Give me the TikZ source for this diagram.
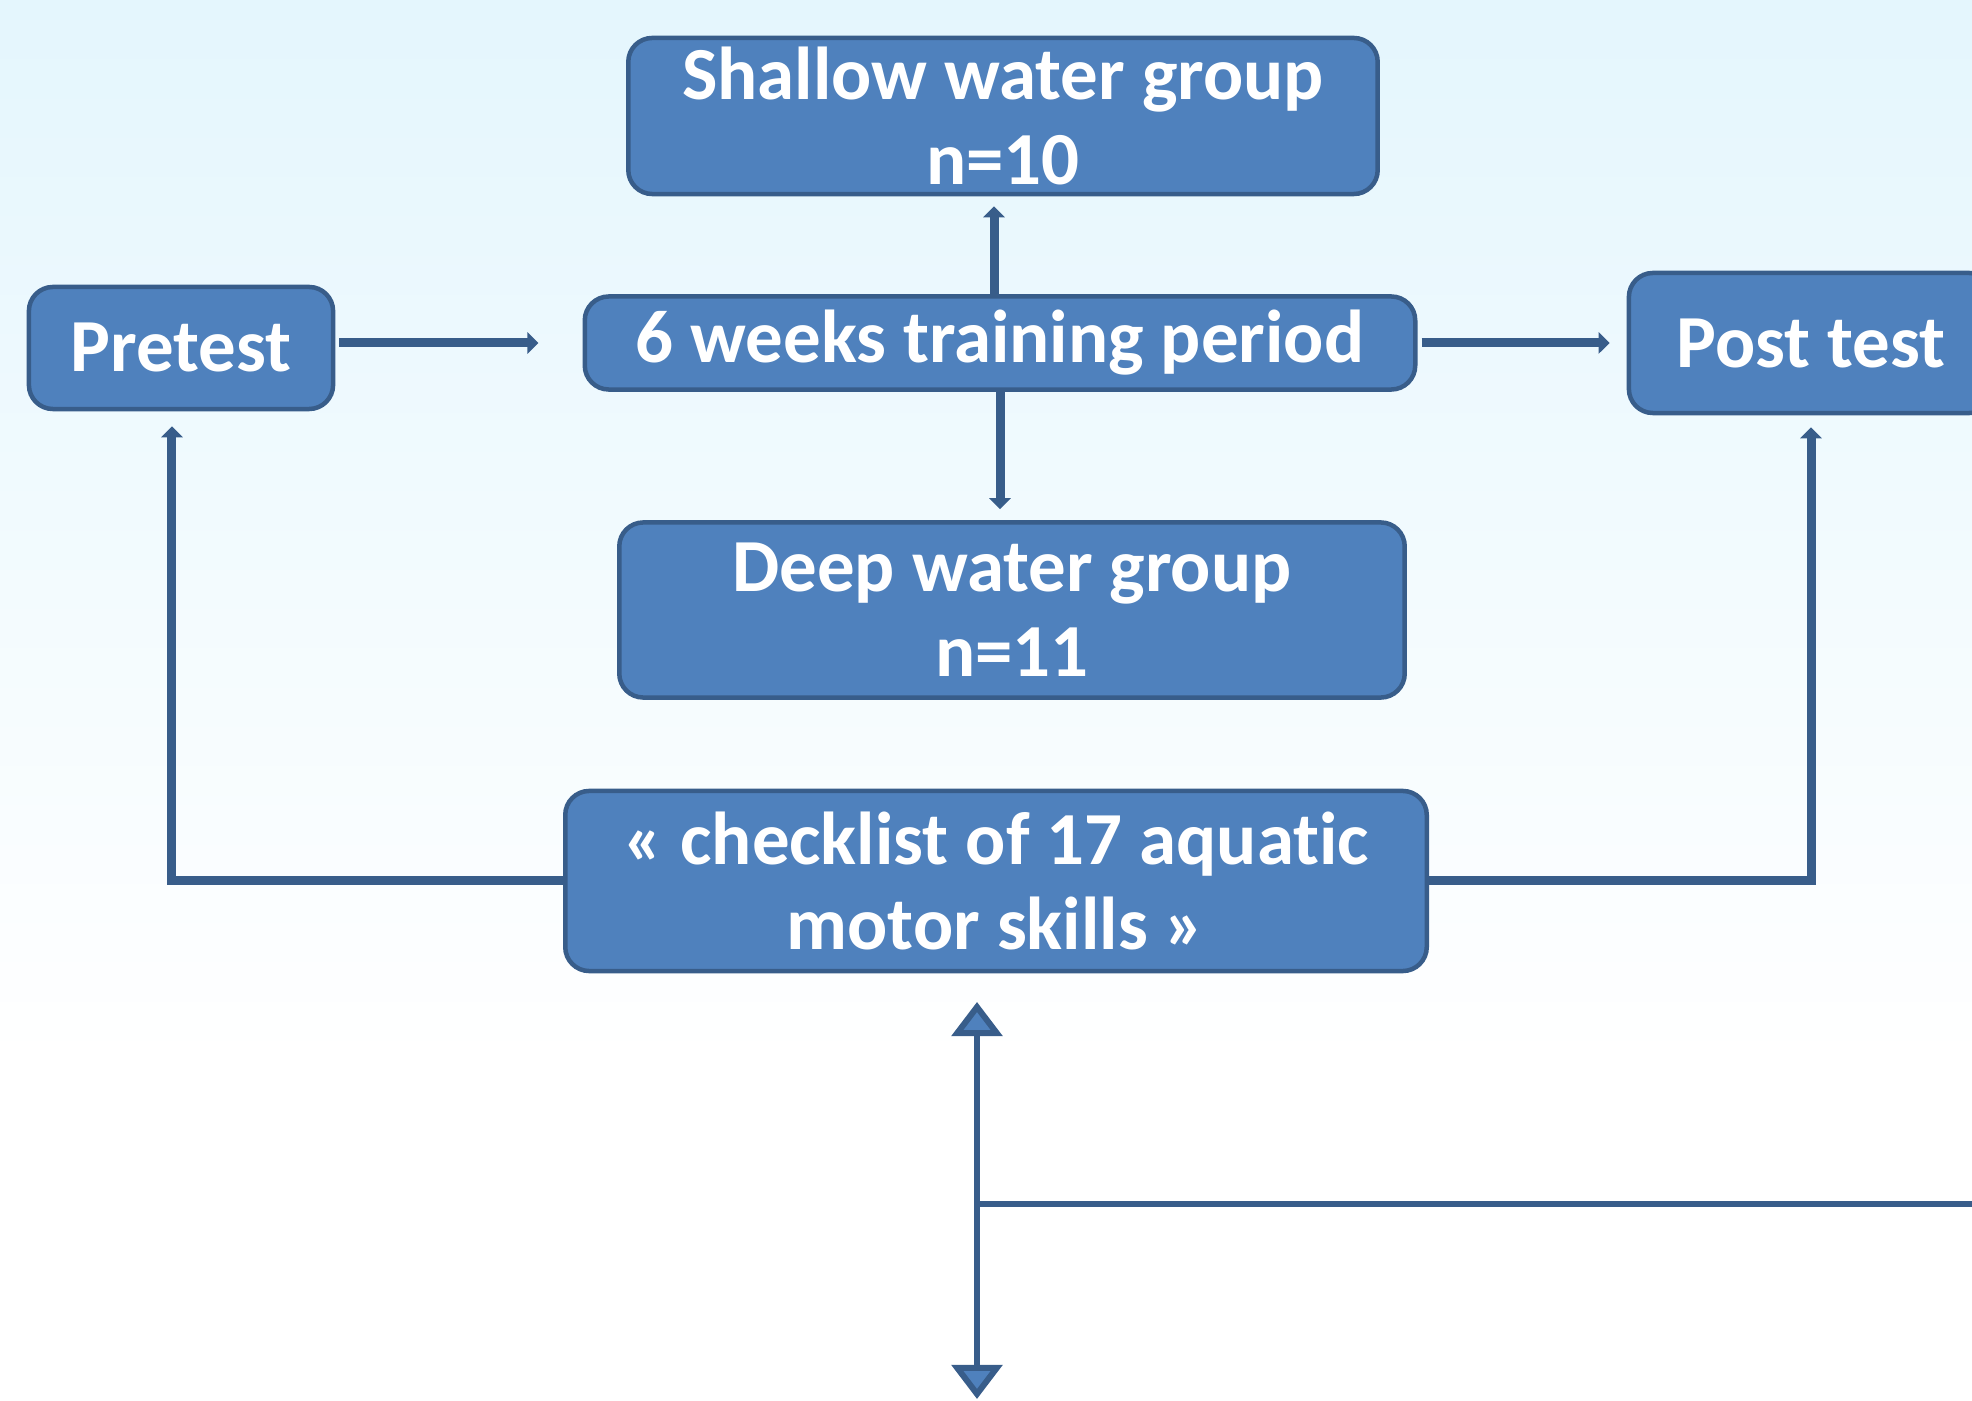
\documentclass[tikz,border=0pt]{standalone}
\usepackage{fontspec}
\setmainfont[Ligatures={NoCommon,NoContextual},Contextuals=NoAlternate]{Carlito}
\usetikzlibrary{arrows.meta}

\definecolor{boxblue}{HTML}{4F81BD}
\definecolor{edgeblue}{HTML}{385D8A}
\definecolor{skytop}{HTML}{E4F6FD}

\begin{document}
\begin{tikzpicture}[x=0.01cm,y=-0.01cm,
    stage/.style={draw=edgeblue,fill=boxblue,line width=0.045cm,rounded corners=0.24cm,
      text=white,align=center,inner sep=0pt,
      font=\fontsize{21.3}{24.2}\selectfont\bfseries},
    link/.style={draw=edgeblue,line width=0.09cm,-{Triangle[width=0.21cm,length=0.11cm]}},
    wire/.style={draw=edgeblue,line width=0.06cm}]
  % page and background
  \useasboundingbox (0,0) rectangle (1972,1401);
  \clip (0,0) rectangle (1972,1401);
  \shade[top color=skytop,bottom color=white] (0,0) rectangle (1972,1060);

  % boxes
  \node[stage,minimum width=7.49cm,minimum height=1.56cm] (shallow) at (1003,116)
    {Shallow water group\\n=10};
  \node[stage,minimum width=3.04cm,minimum height=1.22cm] (pretest) at (181,348) {Pretest};
  \node[stage,minimum width=8.30cm,minimum height=0.93cm] (training) at (1000,343)
    {6 weeks training period};
  \node[stage,minimum width=3.64cm,minimum height=1.40cm] (post) at (1811,343) {Post test};
  \node[stage,minimum width=7.85cm,minimum height=1.75cm] (deep) at (1012,610)
    {Deep water group\\n=11};
  \node[stage,minimum width=8.61cm,minimum height=1.80cm] (check) at (996,881)
    {« checklist of 17 aquatic\\motor skills »};

  % arrows
  \draw[link,shorten <=0.04cm,shorten >=0.44cm] (pretest.east |- training.west) -- (training.west);
  \draw[link,shorten <=0.04cm,shorten >=0.17cm] (training.east) -- (training.east -| post.west);
  \draw[link,shorten >=0.10cm] ([xshift=-0.06cm]training.north) -- ([xshift=-0.06cm]training.north |- shallow.south);
  \draw[link,shorten >=0.11cm] (training.south) -- (training.south |- deep.north);
  \draw[link,shorten >=0.15cm] (check.west) -| ([xshift=-0.09cm]pretest.south);
  \draw[link,shorten >=0.12cm] (check.east) -| (post.south);

  % bottom connector
  \coordinate (uptip) at (977,1002);
  \coordinate (downtip) at (977,1399);
  \coordinate (branch) at (977,1204);
  \coordinate (farright) at (1980,1204);
  \draw[wire,{Triangle[width=0.5cm,length=0.34cm,fill=boxblue]}-{Triangle[width=0.5cm,length=0.34cm,fill=boxblue]}]
    (uptip) -- (downtip);
  \draw[wire] (branch) -- (farright);
\end{tikzpicture}
\end{document}
